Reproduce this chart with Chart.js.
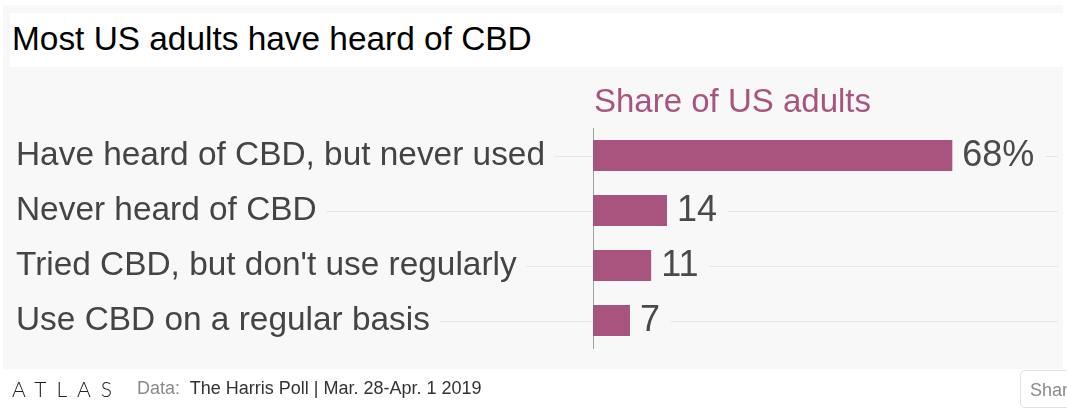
<!DOCTYPE html>
<html>
<head>
<meta charset="utf-8">
<script src="https://cdn.jsdelivr.net/npm/chart.js@4"></script>
<style>
    body { margin: 0; background: #fff; font-family: "Liberation Sans", Arial, sans-serif; width: 1067px; height: 416px; overflow: hidden; position: relative; }
    #panel { position: absolute; left: 3px; top: 5px; width: 1060px; height: 364px; background: #f8f8f8; }
    #titulo { position: absolute; left: 10px; top: 13px; width: 1053px; height: 54px; background: #fff; }
    #titulo h1 { margin: 0; padding-left: 2px; font-weight: normal; font-size: 33.4px; line-height: 52px; color: #000; }
    #contenedor { position: absolute; left: 0; top: 0; width: 1067px; height: 416px; }
    #logo { position: absolute; left: 12px; top: 376px; font-family: Lato, sans-serif; font-weight: 300; font-size: 21px; letter-spacing: 10px; color: #222; }
    #fuente { position: absolute; left: 137px; top: 378px; font-size: 18px; color: #333; }
    #fuente span { color: #8a8a8a; }
    #compartir { position: absolute; left: 1020px; top: 370px; width: 70px; height: 38px; border: 1px solid #e2e2e2; border-radius: 5px; box-sizing: border-box; padding-left: 9px; line-height: 38px; font-size: 18px; color: #8a8a8a; }
</style>
</head>
<body>
<div id="panel"></div>
<div id="titulo"><h1>Most US adults have heard of CBD</h1></div>
<div id="contenedor"><canvas id="grafica"></canvas></div>
<div id="logo">ATLAS</div>
<div id="fuente"><span>Data:</span>&nbsp; The Harris Poll | Mar. 28-Apr. 1 2019</div>
<div id="compartir">Share</div>

<script>
// Datos
const categorias = ['Have heard of CBD, but never used', 'Never heard of CBD', "Tried CBD, but don't use regularly", 'Use CBD on a regular basis'];
const valores = [68, 14, 11, 7];
const etiquetasValor = ['68%', '14', '11', '7'];
const tituloSerie = 'Share of US adults';

const morado = '#a8547f';
const tamEtiquetas = 33.4;
const fuenteEtiquetas = tamEtiquetas + 'px "Liberation Sans", Arial, sans-serif';
const fuenteValores = '36px "Liberation Sans", Arial, sans-serif';

Chart.defaults.font.family = '"Liberation Sans", Arial, sans-serif';

// Líneas guía, encabezado y etiquetas de valor
const pluginExtras = {
    id: 'extras',
    beforeDatasetsDraw(chart) {
        const ctx = chart.ctx;
        const area = chart.chartArea;
        const meta = chart.getDatasetMeta(0);
        ctx.save();
        ctx.strokeStyle = '#e6e6e6';
        ctx.lineWidth = 1;
        meta.data.forEach((barra, i) => {
            const y = Math.round(barra.y) + 0.5;
            ctx.font = fuenteEtiquetas;
            const anchoEtiqueta = ctx.measureText(categorias[i]).width;
            ctx.beginPath();
            ctx.moveTo(16 + anchoEtiqueta + 10, y);
            ctx.lineTo(area.left - 1, y);
            ctx.stroke();
            ctx.font = fuenteValores;
            const anchoValor = ctx.measureText(etiquetasValor[i]).width;
            ctx.beginPath();
            ctx.moveTo(barra.x + 10 + anchoValor + 11, y);
            ctx.lineTo(area.right, y);
            ctx.stroke();
        });
        ctx.restore();
    },
    afterDatasetsDraw(chart) {
        const ctx = chart.ctx;
        const area = chart.chartArea;
        const meta = chart.getDatasetMeta(0);
        ctx.save();
        ctx.font = fuenteValores;
        ctx.fillStyle = '#4a4a4a';
        ctx.textBaseline = 'middle';
        ctx.textAlign = 'left';
        meta.data.forEach((barra, i) => {
            ctx.fillText(etiquetasValor[i], barra.x + 10, barra.y + 1);
        });
        ctx.font = '33px "Liberation Sans", Arial, sans-serif';
        ctx.fillStyle = morado;
        ctx.textBaseline = 'alphabetic';
        ctx.fillText(tituloSerie, area.left + 1, 112);
        ctx.restore();
    }
};

const ctx = document.getElementById('grafica').getContext('2d');
window.miGrafica = new Chart(ctx, {
    type: 'bar',
    data: {
        labels: categorias,
        datasets: [{
            data: valores,
            backgroundColor: morado,
            categoryPercentage: 1,
            barPercentage: 31 / 55
        }]
    },
    options: {
        indexAxis: 'y',
        responsive: true,
        maintainAspectRatio: false,
        animation: false,
        layout: { padding: { left: 16, right: 9, top: 128, bottom: 68 } },
        plugins: {
            legend: { display: false },
            tooltip: { enabled: false }
        },
        scales: {
            x: { display: false, min: 0, max: 88 },
            y: {
                afterFit: (escala) => { escala.width = 577; },
                grid: { display: false },
                border: { display: true, color: '#a0a0a0', width: 1 },
                ticks: {
                    crossAlign: 'far',
                    color: '#444',
                    font: { size: tamEtiquetas }
                }
            }
        }
    },
    plugins: [pluginExtras]
});
</script>
</body>
</html>
